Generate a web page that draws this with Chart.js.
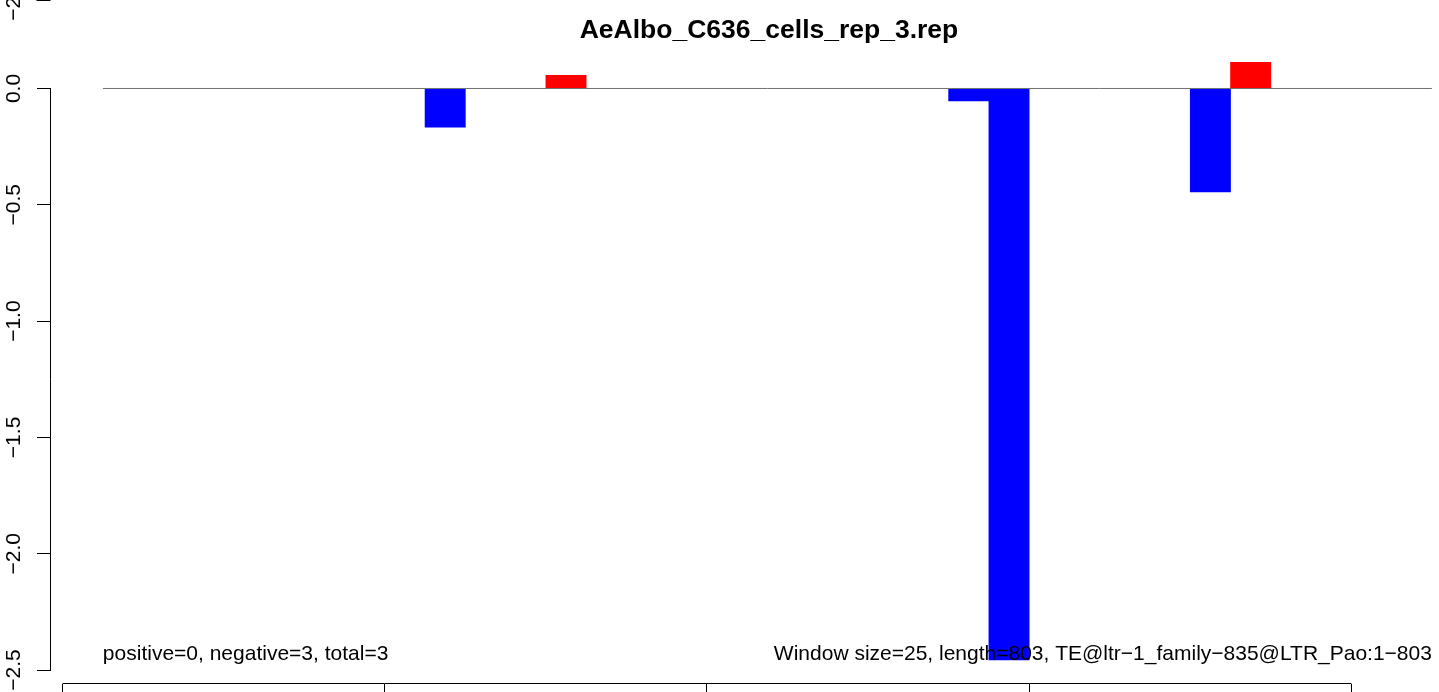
<!DOCTYPE html>
<html>
<head>
<meta charset="utf-8">
<script src="https://cdn.jsdelivr.net/npm/chart.js@4.4.1/dist/chart.umd.min.js"></script>
<style>
  html, body { margin: 0; padding: 0; background: #fff; overflow: hidden; }
  #frame { position: relative; width: 1439px; height: 692px; overflow: hidden; }
  #wrap { position: absolute; left: 0; top: 0; width: 1538px; height: 692px; }
</style>
</head>
<body>
<div id="frame"><div id="wrap"><canvas id="ch"></canvas></div></div>
<script>
// data (window start in bp, signal per window)
const titleText = 'AeAlbo_C636_cells_rep_3.rep';
const windowSize = 25;
const windowStarts = [0, 25, 50, 75, 100, 125, 150, 175, 200, 225, 250, 275, 300, 325, 350, 375,
  400, 425, 450, 475, 500, 525, 550, 575, 600, 625, 650, 675, 700, 725, 750, 775];
const negativeValues = [null, null, null, null, null, null, null, null, null, -0.166, null, null, null, null, null, null,
  null, null, null, null, null, null, -0.054, -2.457, null, null, null, null, -0.445, null, null, null];
const positiveValues = [null, null, null, null, null, null, null, null, null, null, null, null, 0.056, null, null, null,
  null, null, null, null, null, null, null, null, null, null, null, null, null, 0.112, null, null];
const yTickValues = [0, -0.5, -1, -1.5, -2, -2.5];
const xTickValues = [0, 200, 400, 600, 800];
const baselineRange = [25, 850];
const statsText = 'positive=0, negative=3, total=3';
const infoText = 'Window size=25, length=803, TE@ltr\u22121_family\u2212835@LTR_Pao:1\u2212803';
const cutLabel = '\u22122.5'; // label of the panel above, cut by the frame

const FONT = '"Liberation Sans", Arial, Helvetica, sans-serif';
const minus = s => s.replace('-', '\u2212');

const toPoints = vals => windowStarts.map((s, i) => ({ x: s + windowSize / 2, y: vals[i] }));

// R style axes: lines only over the tick range, plus the text() annotations
const rAxes = {
  id: 'rAxes',
  afterDatasetsDraw(chart) {
    const { ctx, chartArea } = chart;
    const xs = chart.scales.x, ys = chart.scales.y;
    ctx.save();
    ctx.strokeStyle = '#000';
    ctx.lineWidth = 1;
    ctx.beginPath();
    const ax = Math.round(chartArea.left) - 0.5;
    ctx.moveTo(ax, ys.getPixelForValue(yTickValues[0]));
    ctx.lineTo(ax, ys.getPixelForValue(yTickValues[yTickValues.length - 1]));
    const ay = Math.round(chartArea.bottom) - 0.5;
    ctx.moveTo(xs.getPixelForValue(xTickValues[0]), ay);
    ctx.lineTo(xs.getPixelForValue(xTickValues[xTickValues.length - 1]), ay);
    // tick of the panel above
    ctx.moveTo(ax - 14, 0.5);
    ctx.lineTo(ax, 0.5);
    ctx.stroke();

    ctx.fillStyle = '#000';
    ctx.font = '21px ' + FONT;
    ctx.textBaseline = 'alphabetic';
    const ty = ys.getPixelForValue(Math.min(...negativeValues.filter(v => v !== null)));
    ctx.textAlign = 'left';
    ctx.fillText(statsText, xs.getPixelForValue(baselineRange[0]), ty);
    ctx.textAlign = 'right';
    ctx.fillText(infoText, xs.getPixelForValue(baselineRange[1]), ty);

    ctx.translate(14, 0);
    ctx.rotate(-Math.PI / 2);
    ctx.textAlign = 'center';
    ctx.textBaseline = 'middle';
    ctx.fillText(cutLabel, 0, 0);
    ctx.restore();
  }
};

new Chart(document.getElementById('ch'), {
  type: 'bar',
  data: {
    datasets: [
      {
        type: 'line',
        order: 0,
        data: baselineRange.map(x => ({ x, y: 0 })),
        borderColor: '#707070',
        borderWidth: 1,
        pointRadius: 0
      },
      {
        order: 1,
        data: toPoints(negativeValues),
        backgroundColor: '#0000ff',
        borderWidth: 0,
        grouped: false,
        barPercentage: 1,
        categoryPercentage: 1
      },
      {
        order: 1,
        data: toPoints(positiveValues),
        backgroundColor: '#ff0000',
        borderWidth: 0,
        grouped: false,
        barPercentage: 1,
        categoryPercentage: 1
      }
    ]
  },
  options: {
    responsive: true,
    maintainAspectRatio: false,
    animation: false,
    events: [],
    layout: { padding: { left: 0, right: 51, top: 0, bottom: 0 } },
    scales: {
      x: {
        type: 'linear',
        min: -7.2,
        max: 884.2,
        offset: false,
        afterBuildTicks: s => { s.ticks = xTickValues.map(v => ({ value: v })); },
        afterFit: s => { s.height = 8; s.paddingLeft = 0; s.paddingRight = 0; },
        border: { display: false },
        grid: { offset: false, drawOnChartArea: false, drawTicks: true, tickLength: 14, color: '#000', lineWidth: 1 },
        ticks: { display: false }
      },
      y: {
        min: -2.56,
        max: 0.217,
        afterBuildTicks: s => { s.ticks = yTickValues.map(v => ({ value: v })); },
        afterFit: s => { s.width = 51; s.paddingTop = 0; s.paddingBottom = 0; },
        border: { display: false },
        grid: { drawOnChartArea: false, drawTicks: true, tickLength: 14, color: '#000', lineWidth: 1 },
        ticks: {
          minRotation: 90,
          maxRotation: 90,
          crossAlign: 'center',
          padding: 2,
          color: '#000',
          font: { family: FONT, size: 21 },
          callback: v => minus(v.toFixed(1))
        }
      }
    },
    plugins: {
      legend: { display: false },
      tooltip: { enabled: false },
      title: {
        display: true,
        text: titleText,
        fullSize: false,
        color: '#000',
        font: { family: FONT, size: 26.5, weight: 'bold', lineHeight: 1 },
        padding: { top: 17, bottom: -5.5 }
      }
    }
  },
  plugins: [rAxes]
});
</script>
</body>
</html>
